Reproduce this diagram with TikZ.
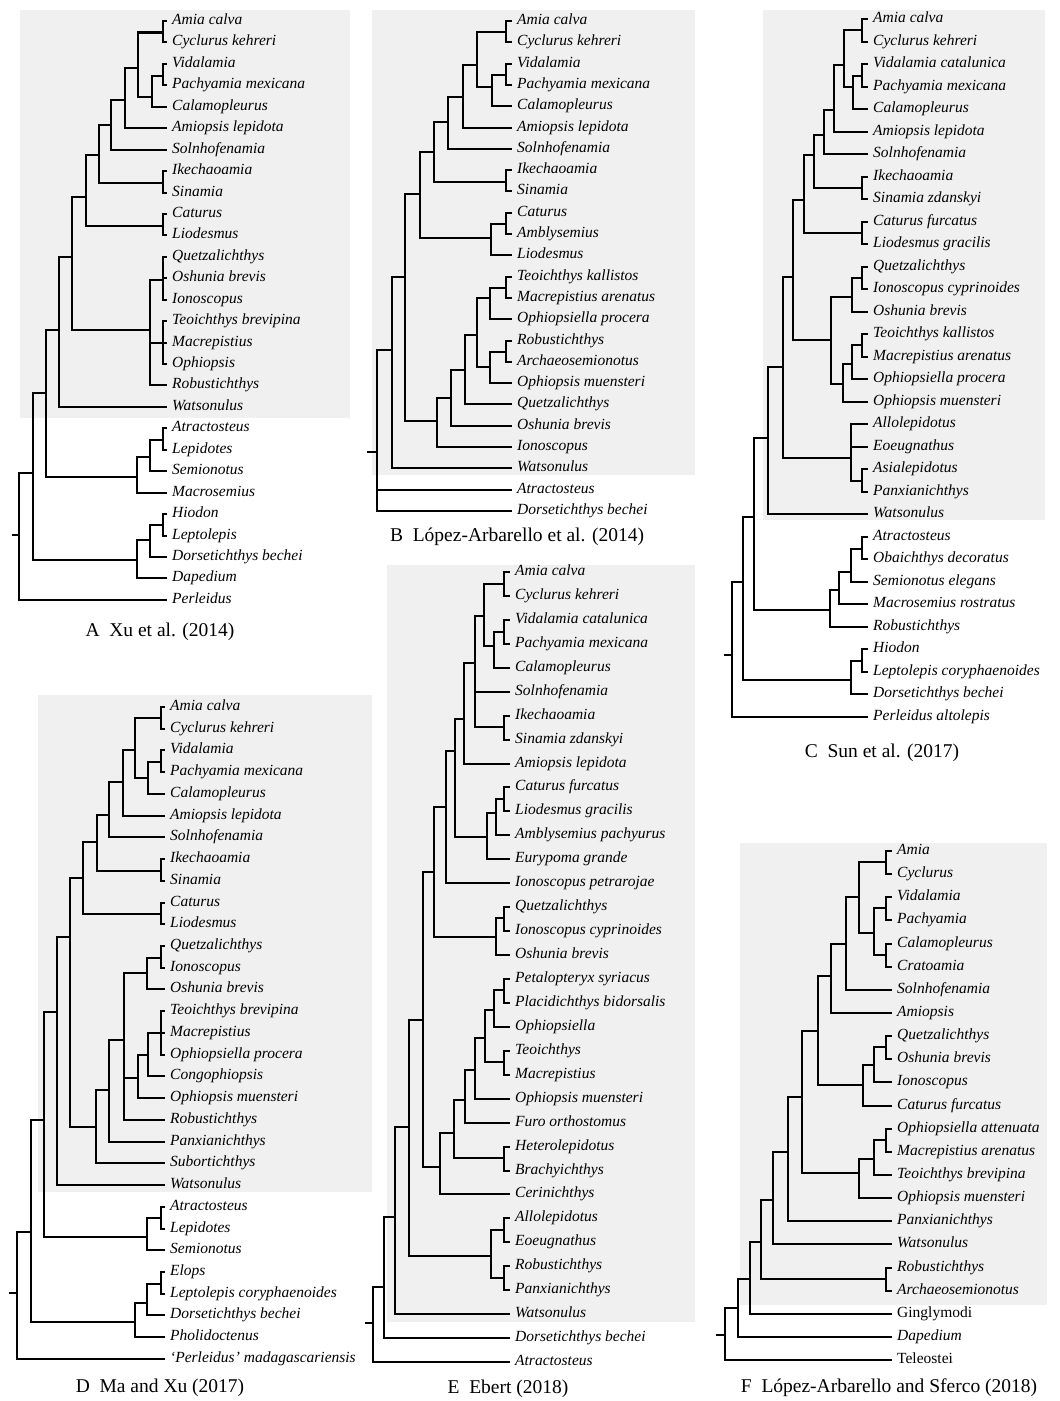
\documentclass[tikz,border=0pt]{standalone}
\usepackage{fontspec}
\setmainfont{Liberation Serif}

\begin{document}
\begin{tikzpicture}[x=1pt,y=-1pt,
	branch/.style={line width=2.1pt},
	leaf/.style={anchor=west,inner xsep=5pt,inner ysep=0pt,text height=9pt,text depth=2pt,font=\fontsize{15.5}{15.5}\selectfont\itshape},
	caption/.style={font=\fontsize{19.5}{19.5}\selectfont},
	panel/.style={fill=black!6}]
	\fill[white] (0,0) rectangle (1060,1401);
	\useasboundingbox (0,0) rectangle (1060,1401);
	\fill[panel] (20,10) rectangle (350,418);
	\fill[panel] (372,10) rectangle (695,475);
	\fill[panel] (763,10) rectangle (1045,520);
	\fill[panel] (38,695) rectangle (372,1192);
	\fill[panel] (387,565) rectangle (695,1322);
	\fill[panel] (740,843) rectangle (1047,1305);

	% A
	\foreach \t [count=\i] in {Amia calva,Cyclurus kehreri,Vidalamia,Pachyamia mexicana,Calamopleurus,Amiopsis lepidota,Solnhofenamia,Ikechaoamia,Sinamia,Caturus,Liodesmus,Quetzalichthys,Oshunia brevis,Ionoscopus,Teoichthys brevipina,Macrepistius,Ophiopsis,Robustichthys,Watsonulus,Atractosteus,Lepidotes,Semionotus,Macrosemius,Hiodon,Leptolepis,Dorsetichthys bechei,Dapedium,Perleidus}
		\node[leaf] (a\i) at (167,{round(21.44*\i-0.44)}) {\t};
	\coordinate (aAC) at (163,32.5);
	\coordinate (aVP) at (163,76);
	\coordinate (aVPC) at (152,97);
	\coordinate (aA1) at (138,68);
	\coordinate (aA2) at (125,100);
	\coordinate (aA3) at (111,125);
	\coordinate (aIS) at (163,183);
	\coordinate (aA4) at (99,155);
	\coordinate (aCL) at (163,226);
	\coordinate (aA5) at (86,197);
	\coordinate (aQ) at (163,280);
	\coordinate (aT) at (163,343);
	\coordinate (aO) at (150,330);
	\coordinate (aH) at (72,257);
	\coordinate (aW) at (59,330);
	\coordinate (aAL) at (163,440);
	\coordinate (aALS) at (150,457);
	\coordinate (aG) at (137,477);
	\coordinate (aN) at (46,393);
	\coordinate (aHL) at (163,525);
	\coordinate (aHLD) at (150,540);
	\coordinate (aHD) at (137,560);
	\coordinate (aN2) at (33,473);
	\coordinate (aR) at (19,535);
	\coordinate (aS) at (12,535);
	\foreach \p/\c in {aAC/a1,aAC/a2,aVP/a3,aVP/a4,aVPC/aVP,aVPC/a5,aA1/aAC,aA1/aVPC,aA2/aA1,aA2/a6,aA3/aA2,aA3/a7,aIS/a8,aIS/a9,aA4/aA3,aA4/aIS,aCL/a10,aCL/a11,aA5/aA4,aA5/aCL,aQ/a12,aQ/a13,aQ/a14,aT/a15,aT/a16,aT/a17,aO/aQ,aO/aT,aO/a18,aH/aA5,aH/aO,aW/aH,aW/a19,aAL/a20,aAL/a21,aALS/aAL,aALS/a22,aG/aALS,aG/a23,aN/aW,aN/aG,aHL/a24,aHL/a25,aHLD/aHL,aHLD/a26,aHD/aHLD,aHD/a27,aN2/aN,aN2/aHD,aR/aN2,aR/a28}
		\draw[branch] (\p) |- (\c);
	\draw[branch] (aR) -- (aS);
	\node[caption] (aCap) at (160,632) {A\enspace Xu et al. (2014)};

	% B
	\foreach \t [count=\i] in {Amia calva,Cyclurus kehreri,Vidalamia,Pachyamia mexicana,Calamopleurus,Amiopsis lepidota,Solnhofenamia,Ikechaoamia,Sinamia,Caturus,Amblysemius,Liodesmus,Teoichthys kallistos,Macrepistius arenatus,Ophiopsiella procera,Robustichthys,Archaeosemionotus,Ophiopsis muensteri,Quetzalichthys,Oshunia brevis,Ionoscopus,Watsonulus,Atractosteus,Dorsetichthys bechei}
		\node[leaf] (b\i) at (512,{round(21.3*\i-0.3)}) {\t};
	\coordinate (bAC) at (506,32);
	\coordinate (bVP) at (506,75);
	\coordinate (bVPC) at (492,87);
	\coordinate (bA1) at (477,65);
	\coordinate (bA2) at (463,97);
	\coordinate (bA3) at (448,122);
	\coordinate (bIS) at (506,182);
	\coordinate (bA4) at (434,152);
	\coordinate (bCA) at (506,224);
	\coordinate (bCAL) at (491,238);
	\coordinate (bA5) at (420,194);
	\coordinate (bTM) at (506,288);
	\coordinate (bTMO) at (490,298);
	\coordinate (bRA) at (506,352);
	\coordinate (bRAO) at (490,367);
	\coordinate (bO1) at (477,335);
	\coordinate (bO2) at (465,370);
	\coordinate (bO3) at (451,398);
	\coordinate (bO4) at (437,421);
	\coordinate (bH) at (405,277);
	\coordinate (bW) at (392,350);
	\coordinate (bR) at (377,452);
	\coordinate (bS) at (367,452);
	\foreach \p/\c in {bAC/b1,bAC/b2,bVP/b3,bVP/b4,bVPC/bVP,bVPC/b5,bA1/bAC,bA1/bVPC,bA2/bA1,bA2/b6,bA3/bA2,bA3/b7,bIS/b8,bIS/b9,bA4/bA3,bA4/bIS,bCA/b10,bCA/b11,bCAL/bCA,bCAL/b12,bA5/bA4,bA5/bCAL,bTM/b13,bTM/b14,bTMO/bTM,bTMO/b15,bRA/b16,bRA/b17,bRAO/bRA,bRAO/b18,bO1/bTMO,bO1/bRAO,bO2/bO1,bO2/b19,bO3/bO2,bO3/b20,bO4/bO3,bO4/b21,bH/bA5,bH/bO4,bW/bH,bW/b22,bR/bW,bR/b23,bR/b24}
		\draw[branch] (\p) |- (\c);
	\draw[branch] (bR) -- (bS);
	\node[caption] (bCap) at (517,537) {B\enspace López-Arbarello et al. (2014)};

	% C
	\foreach \t [count=\i] in {Amia calva,Cyclurus kehreri,Vidalamia catalunica,Pachyamia mexicana,Calamopleurus,Amiopsis lepidota,Solnhofenamia,Ikechaoamia,Sinamia zdanskyi,Caturus furcatus,Liodesmus gracilis,Quetzalichthys,Ionoscopus cyprinoides,Oshunia brevis,Teoichthys kallistos,Macrepistius arenatus,Ophiopsiella procera,Ophiopsis muensteri,Allolepidotus,Eoeugnathus,Asialepidotus,Panxianichthys,Watsonulus,Atractosteus,Obaichthys decoratus,Semionotus elegans,Macrosemius rostratus,Robustichthys,Hiodon,Leptolepis coryphaenoides,Dorsetichthys bechei,Perleidus altolepis}
		\node[leaf] (c\i) at (868,{round(22.5*\i-3.5)}) {\t};
	\coordinate (cAC) at (862,30);
	\coordinate (cVP) at (862,76);
	\coordinate (cVPC) at (853,87);
	\coordinate (cA1) at (844,65);
	\coordinate (cA2) at (834,110);
	\coordinate (cA3) at (824,135);
	\coordinate (cIS) at (862,188);
	\coordinate (cA4) at (814,155);
	\coordinate (cCL) at (862,233);
	\coordinate (cA5) at (804,200);
	\coordinate (cQI) at (862,278);
	\coordinate (cQIO) at (852,297);
	\coordinate (cTM) at (862,345);
	\coordinate (cTMO) at (852,364);
	\coordinate (cOp) at (843,384);
	\coordinate (cIO) at (831,340);
	\coordinate (cH1) at (793,277);
	\coordinate (cAP) at (862,481);
	\coordinate (cAEP) at (851,458);
	\coordinate (cH2) at (783,367);
	\coordinate (cW) at (768,438);
	\coordinate (cAO) at (862,549);
	\coordinate (cAOS) at (851,572);
	\coordinate (cG1) at (839,590);
	\coordinate (cG2) at (830,610);
	\coordinate (cN) at (754,517);
	\coordinate (cHL) at (862,661);
	\coordinate (cHLD) at (851,680);
	\coordinate (cN2) at (743,582);
	\coordinate (cR) at (732,655);
	\coordinate (cS) at (724,655);
	\foreach \p/\c in {cAC/c1,cAC/c2,cVP/c3,cVP/c4,cVPC/cVP,cVPC/c5,cA1/cAC,cA1/cVPC,cA2/cA1,cA2/c6,cA3/cA2,cA3/c7,cIS/c8,cIS/c9,cA4/cA3,cA4/cIS,cCL/c10,cCL/c11,cA5/cA4,cA5/cCL,cQI/c12,cQI/c13,cQIO/cQI,cQIO/c14,cTM/c15,cTM/c16,cTMO/cTM,cTMO/c17,cOp/cTMO,cOp/c18,cIO/cQIO,cIO/cOp,cH1/cA5,cH1/cIO,cAP/c21,cAP/c22,cAEP/c19,cAEP/c20,cAEP/cAP,cH2/cH1,cH2/cAEP,cW/cH2,cW/c23,cAO/c24,cAO/c25,cAOS/cAO,cAOS/c26,cG1/cAOS,cG1/c27,cG2/cG1,cG2/c28,cN/cW,cN/cG2,cHL/c29,cHL/c30,cHLD/cHL,cHLD/c31,cN2/cN,cN2/cHLD,cR/cN2,cR/c32}
		\draw[branch] (\p) |- (\c);
	\draw[branch] (cR) -- (cS);
	\node[caption] (cCap) at (882,753) {C\enspace Sun et al. (2017)};

	% D
	\foreach \t [count=\i] in {Amia calva,Cyclurus kehreri,Vidalamia,Pachyamia mexicana,Calamopleurus,Amiopsis lepidota,Solnhofenamia,Ikechaoamia,Sinamia,Caturus,Liodesmus,Quetzalichthys,Ionoscopus,Oshunia brevis,Teoichthys brevipina,Macrepistius,Ophiopsiella procera,Congophiopsis,Ophiopsis muensteri,Robustichthys,Panxianichthys,Subortichthys,Watsonulus,Atractosteus,Lepidotes,Semionotus,Elops,Leptolepis coryphaenoides,Dorsetichthys bechei,Pholidoctenus,`Perleidus' madagascariensis}
		\node[leaf] (d\i) at (165,{round(21.73*\i+685.27)}) {\t};
	\coordinate (dAC) at (161,718);
	\coordinate (dVP) at (161,762);
	\coordinate (dVPC) at (148,778);
	\coordinate (dA1) at (135,750);
	\coordinate (dA2) at (123,782);
	\coordinate (dA3) at (109,815);
	\coordinate (dIS) at (161,871);
	\coordinate (dA4) at (97,842);
	\coordinate (dCL) at (161,914);
	\coordinate (dA5) at (83,878);
	\coordinate (dQI) at (161,958);
	\coordinate (dQIO) at (147,973);
	\coordinate (dTMO) at (161,1033);
	\coordinate (dTC) at (148,1055);
	\coordinate (dO1) at (138,1078);
	\coordinate (dIon) at (124,1040);
	\coordinate (dI2) at (109,1090);
	\coordinate (dI3) at (96,1127);
	\coordinate (dH) at (70,937);
	\coordinate (dW) at (57,1012);
	\coordinate (dAL) at (161,1218);
	\coordinate (dALS) at (147,1237);
	\coordinate (dN) at (44,1120);
	\coordinate (dEL) at (161,1284);
	\coordinate (dELD) at (147,1303);
	\coordinate (dELP) at (135,1322);
	\coordinate (dN2) at (31,1232);
	\coordinate (dR) at (17,1293);
	\coordinate (dS) at (9,1293);
	\foreach \p/\c in {dAC/d1,dAC/d2,dVP/d3,dVP/d4,dVPC/dVP,dVPC/d5,dA1/dAC,dA1/dVPC,dA2/dA1,dA2/d6,dA3/dA2,dA3/d7,dIS/d8,dIS/d9,dA4/dA3,dA4/dIS,dCL/d10,dCL/d11,dA5/dA4,dA5/dCL,dQI/d12,dQI/d13,dQIO/dQI,dQIO/d14,dTMO/d15,dTMO/d16,dTMO/d17,dTC/dTMO,dTC/d18,dO1/dTC,dO1/d19,dIon/dQIO,dIon/dO1,dIon/d20,dI2/dIon,dI2/d21,dI3/dI2,dI3/d22,dH/dA5,dH/dI3,dW/dH,dW/d23,dAL/d24,dAL/d25,dALS/dAL,dALS/d26,dN/dW,dN/dALS,dEL/d27,dEL/d28,dELD/dEL,dELD/d29,dELP/dELD,dELP/d30,dN2/dN,dN2/dELP,dR/dN2,dR/d31}
		\draw[branch] (\p) |- (\c);
	\draw[branch] (dR) -- (dS);
	\node[caption] (dCap) at (160,1388) {D\enspace Ma and Xu (2017)};

	% E
	\foreach \t [count=\i] in {Amia calva,Cyclurus kehreri,Vidalamia catalunica,Pachyamia mexicana,Calamopleurus,Solnhofenamia,Ikechaoamia,Sinamia zdanskyi,Amiopsis lepidota,Caturus furcatus,Liodesmus gracilis,Amblysemius pachyurus,Eurypoma grande,Ionoscopus petrarojae,Quetzalichthys,Ionoscopus cyprinoides,Oshunia brevis,Petalopteryx syriacus,Placidichthys bidorsalis,Ophiopsiella,Teoichthys,Macrepistius,Ophiopsis muensteri,Furo orthostomus,Heterolepidotus,Brachyichthys,Cerinichthys,Allolepidotus,Eoeugnathus,Robustichthys,Panxianichthys,Watsonulus,Dorsetichthys bechei,Atractosteus}
		\node[leaf] (e\i) at (510,{round(23.94*\i+548.06)}) {\t};
	\coordinate (eAC) at (504,584);
	\coordinate (eVP) at (504,632);
	\coordinate (eVPC) at (494,646);
	\coordinate (eA1) at (484,616);
	\coordinate (eIS) at (504,727);
	\coordinate (eA2) at (475,663);
	\coordinate (eA3) at (464,719);
	\coordinate (eCL) at (504,799);
	\coordinate (eCLA) at (496,813);
	\coordinate (eCLE) at (487,837);
	\coordinate (eA4) at (455,751);
	\coordinate (eA5) at (446,807);
	\coordinate (eQI) at (504,918);
	\coordinate (eQIO) at (496,937);
	\coordinate (eH1) at (434,872);
	\coordinate (ePP) at (504,990);
	\coordinate (ePPO) at (494,1010);
	\coordinate (eTM) at (504,1062);
	\coordinate (eO1) at (485,1038);
	\coordinate (eO2) at (475,1070);
	\coordinate (eO3) at (465,1100);
	\coordinate (eHB) at (504,1158);
	\coordinate (eO4) at (454,1133);
	\coordinate (eO5) at (440,1167);
	\coordinate (eH2) at (423,1020);
	\coordinate (eAE) at (504,1230);
	\coordinate (eRP) at (504,1278);
	\coordinate (eARP) at (491,1256);
	\coordinate (eW1) at (409,1127);
	\coordinate (eW2) at (395,1217);
	\coordinate (eN2) at (384,1287);
	\coordinate (eR) at (373,1323);
	\coordinate (eS) at (365,1323);
	\foreach \p/\c in {eAC/e1,eAC/e2,eVP/e3,eVP/e4,eVPC/eVP,eVPC/e5,eA1/eAC,eA1/eVPC,eIS/e7,eIS/e8,eA2/eA1,eA2/e6,eA2/eIS,eA3/eA2,eA3/e9,eCL/e10,eCL/e11,eCLA/eCL,eCLA/e12,eCLE/eCLA,eCLE/e13,eA4/eA3,eA4/eCLE,eA5/eA4,eA5/e14,eQI/e15,eQI/e16,eQIO/eQI,eQIO/e17,eH1/eA5,eH1/eQIO,ePP/e18,ePP/e19,ePPO/ePP,ePPO/e20,eTM/e21,eTM/e22,eO1/ePPO,eO1/eTM,eO2/eO1,eO2/e23,eO3/eO2,eO3/e24,eHB/e25,eHB/e26,eO4/eO3,eO4/eHB,eO5/eO4,eO5/e27,eH2/eH1,eH2/eO5,eAE/e28,eAE/e29,eRP/e30,eRP/e31,eARP/eAE,eARP/eRP,eW1/eH2,eW1/eARP,eW2/eW1,eW2/e32,eN2/eW2,eN2/e33,eR/eN2,eR/e34}
		\draw[branch] (\p) |- (\c);
	\draw[branch] (eR) -- (eS);
	\node[caption] (eCap) at (508,1389) {E\enspace Ebert (2018)};

	% F
	\foreach \t [count=\i] in {Amia,Cyclurus,Vidalamia,Pachyamia,Calamopleurus,Cratoamia,Solnhofenamia,Amiopsis,Quetzalichthys,Oshunia brevis,Ionoscopus,Caturus furcatus,Ophiopsiella attenuata,Macrepistius arenatus,Teoichthys brevipina,Ophiopsis muensteri,Panxianichthys,Watsonulus,Robustichthys,Archaeosemionotus,{\upshape Ginglymodi},Dapedium,{\upshape Teleostei}}
		\node[leaf] (f\i) at (892,{round(23.14*\i+827.86)}) {\t};
	\coordinate (fAC) at (886,862);
	\coordinate (fVP) at (886,908);
	\coordinate (fCC) at (886,955);
	\coordinate (fVC) at (874,933);
	\coordinate (fA1) at (859,897);
	\coordinate (fA2) at (846,944);
	\coordinate (fA3) at (831,976);
	\coordinate (fQO) at (886,1047);
	\coordinate (fQOI) at (874,1065);
	\coordinate (fQC) at (863,1085);
	\coordinate (fH) at (818,1031);
	\coordinate (fOM) at (886,1140);
	\coordinate (fOMT) at (874,1159);
	\coordinate (fOp) at (859,1173);
	\coordinate (fH2) at (802,1097);
	\coordinate (fP) at (788,1152);
	\coordinate (fW) at (773,1200);
	\coordinate (fRA) at (886,1279);
	\coordinate (fH3) at (761,1242);
	\coordinate (fG) at (750,1279);
	\coordinate (fD) at (738,1308);
	\coordinate (fR) at (725,1335);
	\coordinate (fS) at (716,1335);
	\foreach \p/\c in {fAC/f1,fAC/f2,fVP/f3,fVP/f4,fCC/f5,fCC/f6,fVC/fVP,fVC/fCC,fA1/fAC,fA1/fVC,fA2/fA1,fA2/f7,fA3/fA2,fA3/f8,fQO/f9,fQO/f10,fQOI/fQO,fQOI/f11,fQC/fQOI,fQC/f12,fH/fA3,fH/fQC,fOM/f13,fOM/f14,fOMT/fOM,fOMT/f15,fOp/fOMT,fOp/f16,fH2/fH,fH2/fOp,fP/fH2,fP/f17,fW/fP,fW/f18,fRA/f19,fRA/f20,fH3/fW,fH3/fRA,fG/fH3,fG/f21,fD/fG,fD/f22,fR/fD,fR/f23}
		\draw[branch] (\p) |- (\c);
	\draw[branch] (fR) -- (fS);
	\node[caption] (fCap) at (889,1388) {F\enspace López-Arbarello and Sferco (2018)};
\end{tikzpicture}
\end{document}
